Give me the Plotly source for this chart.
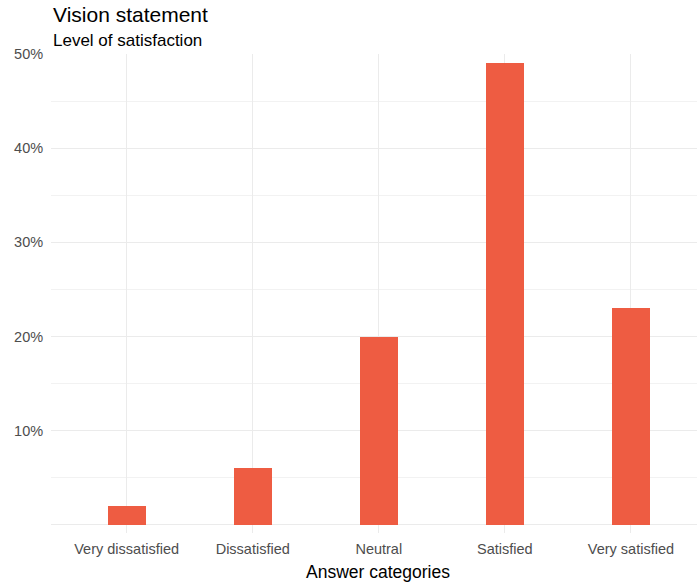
import plotly.graph_objects as go

categories = ["Very dissatisfied", "Dissatisfied", "Neutral", "Satisfied", "Very satisfied"]
shares = [2, 6, 20, 49, 23]
y_ticks = [0, 10, 20, 30, 40, 50]
y_tick_labels = ["", "10%", "20%", "30%", "40%", "50%"]

FONT = "Liberation Sans, Arial, sans-serif"
W, H = 697, 583
M_L, M_R, M_T, M_B = 51, 0, 54, 50
PLOT_W = W - M_L - M_R
PLOT_H = H - M_T - M_B


def paper_x(px_from_left):
    # convert a pixel column of the page into paper coordinates
    return (px_from_left - M_L) / PLOT_W


def paper_y(px_from_top):
    # convert a pixel row of the page into paper coordinates
    return (H - M_B - px_from_top) / PLOT_H


fig = go.Figure(
    go.Bar(
        x=list(range(len(categories))),
        y=shares,
        width=0.3,
        marker=dict(color="#EE5C42", line=dict(width=0)),
        hoverinfo="skip",
    )
)

fig.update_layout(
    width=W,
    height=H,
    margin=dict(l=M_L, r=M_R, t=M_T, b=M_B, pad=0),
    paper_bgcolor="white",
    plot_bgcolor="white",
    font=dict(family=FONT, color="#4d4d4d", size=14),
    showlegend=False,
    bargap=0,
    xaxis=dict(
        range=[-0.6, 4.524],
        tickmode="array",
        tickvals=list(range(len(categories))),
        ticktext=categories,
        showgrid=True,
        gridcolor="#ebebeb",
        gridwidth=1,
        zeroline=False,
        showline=False,
        ticks="outside",
        ticklen=3,
        tickcolor="rgba(0,0,0,0)",
        tickfont=dict(size=14.5, color="#4d4d4d"),
    ),
    yaxis=dict(
        range=[-0.85, 50],
        tickmode="array",
        tickvals=y_ticks,
        ticktext=y_tick_labels,
        showgrid=True,
        gridcolor="#ebebeb",
        gridwidth=1,
        minor=dict(tickvals=[5, 15, 25, 35, 45], showgrid=True, gridcolor="#f2f2f2", gridwidth=1),
        zeroline=False,
        showline=False,
        ticks="outside",
        ticklen=4,
        tickcolor="rgba(0,0,0,0)",
        tickfont=dict(size=14.5, color="#4d4d4d"),
    ),
)

# x-axis title, centred under the full panel
fig.add_annotation(
    text="Answer categories", xref="paper", yref="paper", x=paper_x(378), y=paper_y(572),
    xanchor="center", yanchor="middle", showarrow=False,
    font=dict(family=FONT, size=17.5, color="black"),
)
fig.add_annotation(
    text="Vision statement", xref="paper", yref="paper", x=0.0, y=paper_y(15),
    xanchor="left", yanchor="middle", showarrow=False,
    font=dict(family=FONT, size=21, color="black"),
)
fig.add_annotation(
    text="Level of satisfaction", xref="paper", yref="paper", x=0.0, y=paper_y(40),
    xanchor="left", yanchor="middle", showarrow=False,
    font=dict(family=FONT, size=17, color="black"),
)

fig.write_html("out.html")
